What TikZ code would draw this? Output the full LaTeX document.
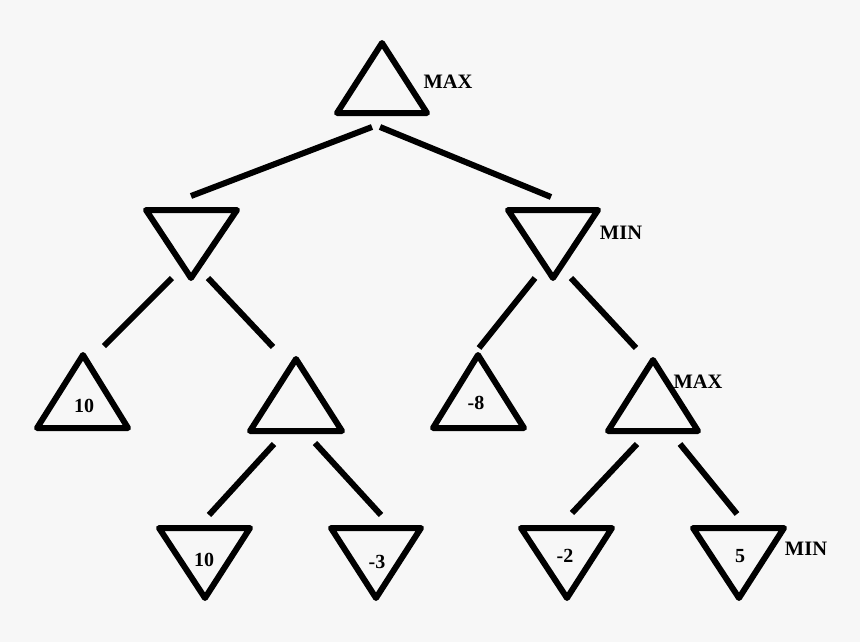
\documentclass[tikz,border=0pt]{standalone}
\usepackage{fontspec}
\setmainfont{Liberation Serif}
\begin{document}
\begin{tikzpicture}[x=1pt,y=-1pt,
  tri/.style={draw=black,line width=6pt,line join=round},
  edge/.style={draw=black,line width=6pt},
  lbl/.style={font=\fontsize{20.5}{23}\selectfont\bfseries,inner sep=0pt},
  val/.style={font=\fontsize{20}{23}\selectfont\bfseries,inner sep=0pt}]
\fill[fill={rgb,255:red,247;green,247;blue,247}] (0,0) rectangle (860,642);
\useasboundingbox (0,0) rectangle (860,642);
% triangles
\draw[tri] (382,43) -- (427,113) -- (337,113) -- cycle;
\draw[tri] (146,210) -- (237,210) -- (191,278) -- cycle;
\draw[tri] (508,210) -- (598,210) -- (553,278) -- cycle;
\draw[tri] (83,355) -- (128,428) -- (37,428) -- cycle;
\draw[tri] (296,359) -- (342,431) -- (250,431) -- cycle;
\draw[tri] (478,355) -- (524,428) -- (433,428) -- cycle;
\draw[tri] (653,360) -- (698,431) -- (608,431) -- cycle;
\draw[tri] (159,528) -- (250,528) -- (205,598) -- cycle;
\draw[tri] (331,528) -- (421,528) -- (376,598) -- cycle;
\draw[tri] (521,528) -- (612,528) -- (567,598) -- cycle;
\draw[tri] (693,528) -- (784,528) -- (739,598) -- cycle;
% labels
\node[lbl] (lmax1) at (448,82) {MAX};
\node[lbl] (lmin1) at (621,233) {MIN};
\node[lbl] (lmax2) at (698,382) {MAX};
\node[lbl] (lmin2) at (806,549) {MIN};
\node[val] (v1) at (84,406) {10};
\node[val] (v2) at (476,403) {-8};
\node[val] (v3) at (204,560) {10};
\node[val] (v4) at (377,562) {-3};
\node[val] (v5) at (565,556) {-2};
\node[val] (v6) at (740,556) {5};
% connector end points
\coordinate (a1) at (372,127); \coordinate (b1) at (191,196);
\coordinate (a2) at (380,127); \coordinate (b2) at (551,197);
\coordinate (a3) at (172,278); \coordinate (b3) at (104,346);
\coordinate (a4) at (208,278); \coordinate (b4) at (273,347);
\coordinate (a5) at (535,278); \coordinate (b5) at (479,348);
\coordinate (a6) at (571,278); \coordinate (b6) at (636,348);
\coordinate (a7) at (274,444); \coordinate (b7) at (209,515);
\coordinate (a8) at (315,443); \coordinate (b8) at (381,515);
\coordinate (a9) at (637,444); \coordinate (b9) at (572,513);
\coordinate (a10) at (680,444); \coordinate (b10) at (737,514);
\foreach \i in {1,...,10} \draw[edge] (a\i) -- (b\i);
\end{tikzpicture}
\end{document}
